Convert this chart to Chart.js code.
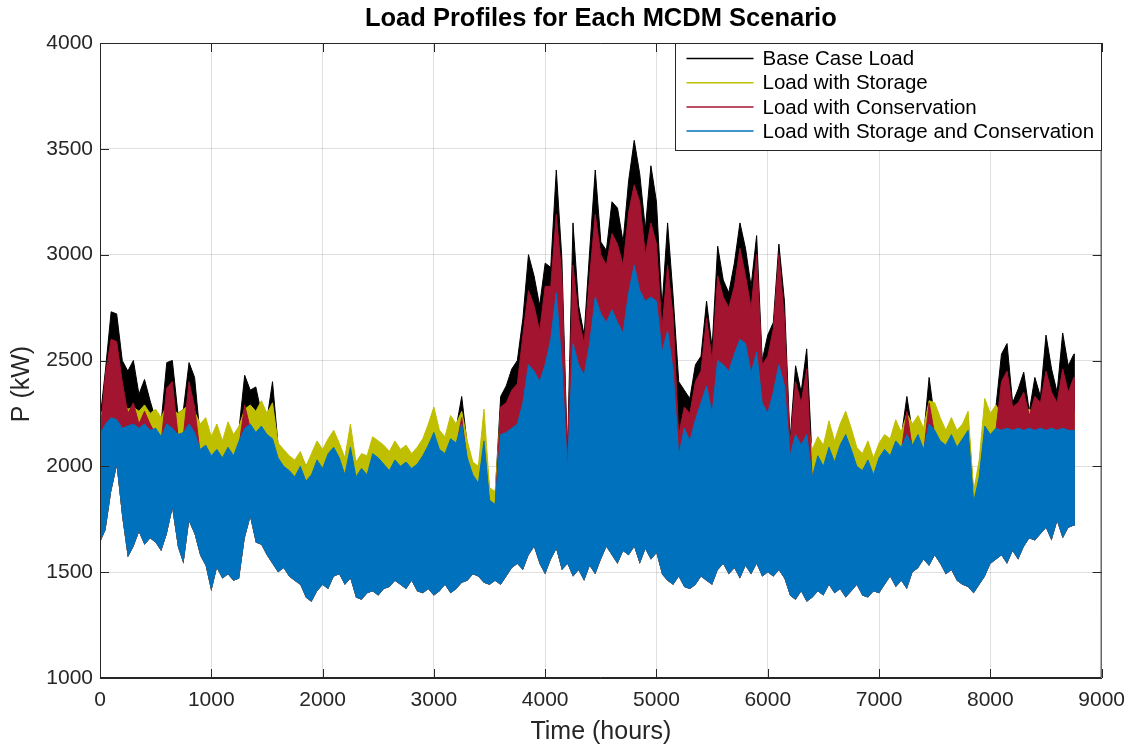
<!DOCTYPE html>
<html>
<head>
<meta charset="utf-8">
<script src="https://cdn.jsdelivr.net/npm/chart.js@4.4.1/dist/chart.umd.min.js"></script>
<style>
  html, body { margin: 0; padding: 0; background: #fff; }
  #wrap { width: 1135px; height: 747px; }
</style>
</head>
<body>
<div id="wrap"><canvas id="loadChart" width="1135" height="747"></canvas></div>
<script>
"use strict";

// Timserie: ett block per 50 timmar över året (0-8760 h).
const STEP = 50;
const END_HOUR = 8760;
const hours = Array.from({ length: 176 }, (_, i) => i * STEP);

// Lägsta last (kW) i varje block, gemensam undre kant för alla scenarier.
const dailyLow = [
  1640,1700,1880,2000,1760,1570,1620,1690,1630,1660,
  1640,1600,1680,1800,1620,1540,1740,1680,1580,1530,
  1410,1520,1470,1490,1460,1470,1660,1760,1640,1630,
  1580,1540,1500,1520,1480,1460,1440,1380,1360,1410,
  1440,1420,1480,1490,1440,1470,1380,1370,1400,1410,
  1390,1420,1430,1460,1440,1420,1460,1410,1400,1420,
  1390,1410,1440,1400,1420,1450,1460,1490,1480,1450,
  1440,1460,1440,1480,1520,1540,1510,1580,1620,1540,
  1490,1560,1610,1510,1540,1480,1510,1460,1530,1490,
  1560,1620,1580,1540,1600,1580,1620,1540,1610,1560,
  1590,1490,1460,1440,1480,1430,1420,1440,1480,1460,
  1440,1510,1540,1490,1520,1470,1530,1490,1540,1480,
  1500,1480,1510,1470,1390,1370,1410,1360,1380,1410,
  1390,1440,1400,1420,1380,1410,1440,1390,1380,1410,
  1400,1440,1480,1430,1460,1420,1500,1520,1560,1530,
  1580,1540,1490,1510,1460,1440,1430,1400,1440,1480,
  1540,1560,1580,1540,1600,1560,1620,1660,1650,1680,
  1710,1650,1740,1660,1710,1720
];

// Högsta last (kW) i varje block, per scenario.
const basePeak = [
  2220,2460,2730,2720,2500,2450,2500,2340,2410,2310,
  2220,2210,2490,2500,2250,2270,2490,2420,2140,2170,
  2120,2150,2100,2150,2120,2180,2430,2360,2375,2250,
  2220,2400,2100,2060,2040,2020,2060,2000,2020,2100,
  2060,2120,2140,2100,2020,2140,2010,2050,2020,2120,
  2100,2070,2040,2090,2060,2080,2050,2070,2110,2160,
  2220,2140,2120,2190,2180,2330,2100,2010,1980,2180,
  1880,1860,2330,2380,2460,2500,2700,3000,2900,2760,
  2960,2940,3400,2980,2050,3150,2760,2620,3020,3400,
  3060,3020,3250,3220,3060,3350,3540,3380,3120,3420,
  3250,2750,3150,2800,2400,2360,2320,2480,2520,2780,
  2560,3040,2880,2820,2960,3150,3030,2850,3090,2500,
  2620,2680,3050,2780,2120,2475,2350,2555,2020,2100,
  2070,2140,2080,2160,2210,2140,2060,2040,2090,2020,
  2090,2130,2110,2170,2140,2330,2160,2200,2140,2420,
  2220,2180,2160,2200,2140,2180,2220,1870,2010,2240,
  2220,2280,2530,2580,2300,2365,2445,2260,2420,2330,
  2620,2460,2350,2630,2475,2530
];

const storagePeak = [
  2240,2290,2300,2310,2300,2270,2280,2260,2290,2250,
  2270,2230,2290,2270,2250,2270,2290,2260,2200,2230,
  2140,2200,2120,2210,2150,2190,2270,2290,2260,2310,
  2250,2300,2110,2080,2050,2030,2070,2000,2060,2120,
  2080,2130,2170,2110,2040,2200,2020,2060,2050,2140,
  2120,2100,2070,2120,2080,2100,2060,2090,2130,2200,
  2280,2170,2140,2240,2200,2260,2120,2020,2000,2270,
  1900,1880,2260,2290,2280,2300,2330,2350,2340,2330,
  2350,2360,2380,2330,2050,2350,2340,2330,2340,2370,
  2360,2350,2360,2350,2350,2380,2400,2380,2370,2370,
  2360,2330,2350,2330,2130,2250,2230,2280,2320,2330,
  2310,2350,2350,2340,2360,2360,2360,2340,2350,2310,
  2300,2320,2340,2330,2120,2250,2200,2230,2080,2140,
  2100,2215,2120,2200,2260,2180,2090,2060,2120,2040,
  2110,2150,2130,2220,2160,2250,2200,2240,2180,2310,
  2300,2230,2170,2230,2170,2200,2260,1880,2030,2320,
  2250,2290,2240,2250,2240,2260,2250,2270,2250,2260,
  2250,2260,2250,2260,2250,2260
];

const conservationPeak = [
  2150,2440,2600,2590,2400,2250,2300,2200,2260,2200,
  2150,2120,2370,2400,2150,2150,2400,2280,2060,2080,
  2030,2060,2020,2070,2030,2100,2290,2180,2140,2170,
  2130,2110,2020,1980,1960,1930,1980,1910,1940,2010,
  1970,2040,2070,2020,1940,2070,1930,1970,1940,2040,
  2020,1990,1960,2010,1980,2000,1970,1990,2030,2080,
  2140,2060,2040,2110,2090,2230,2020,1940,1900,2100,
  1820,1800,2280,2300,2360,2390,2620,2830,2760,2640,
  2850,2850,3190,2900,2030,2950,2700,2580,2900,3190,
  3000,2950,3100,3050,2950,3200,3330,3250,3000,3150,
  3050,2650,2950,2700,2150,2280,2250,2400,2450,2700,
  2500,2900,2800,2750,2850,3030,2900,2750,3000,2480,
  2520,2650,3000,2700,2100,2400,2300,2460,1930,2030,
  1980,2070,2000,2080,2130,2060,1980,1960,2010,1940,
  2020,2060,2030,2100,2070,2260,2080,2130,2060,2300,
  2150,2100,2080,2130,2070,2110,2150,1810,1930,2170,
  2130,2170,2400,2450,2280,2300,2350,2240,2330,2300,
  2450,2350,2300,2460,2350,2420
];

const bothPeak = [
  2150,2200,2230,2220,2180,2190,2200,2180,2200,2170,
  2180,2140,2200,2180,2150,2160,2200,2160,2080,2100,
  2050,2080,2040,2090,2050,2120,2180,2200,2160,2190,
  2150,2130,2040,2000,1980,1950,2000,1930,1960,2030,
  1990,2060,2090,2040,1960,2090,1950,1990,1960,2060,
  2040,2010,1980,2030,2000,2020,1990,2010,2050,2100,
  2160,2080,2060,2130,2110,2200,2040,1960,1920,2120,
  1840,1820,2150,2160,2180,2200,2300,2480,2450,2400,
  2480,2600,2820,2480,1980,2580,2480,2430,2580,2800,
  2720,2680,2740,2680,2630,2820,2950,2830,2780,2800,
  2780,2540,2640,2450,2050,2180,2120,2220,2300,2380,
  2250,2500,2480,2450,2530,2600,2580,2440,2540,2300,
  2250,2350,2480,2380,2050,2150,2100,2150,1950,2050,
  2000,2090,2020,2100,2150,2080,2000,1980,2030,1960,
  2040,2080,2050,2120,2090,2150,2100,2150,2080,2200,
  2170,2120,2100,2150,2090,2130,2170,1830,1950,2190,
  2150,2180,2170,2180,2170,2180,2170,2180,2170,2180,
  2170,2180,2170,2180,2170,2170
];

// Axlar
const xTicks = [0, 1000, 2000, 3000, 4000, 5000, 6000, 7000, 8000, 9000];
const yTicks = [1000, 1500, 2000, 2500, 3000, 3500, 4000];

const labels = [
  "Base Case Load",
  "Load with Storage",
  "Load with Conservation",
  "Load with Storage and Conservation"
];
const colors = ["#000000", "#bfbf00", "#a2142f", "#0072bd"];
const series = [basePeak, storagePeak, conservationPeak, bothPeak];

const TITLE = "Load Profiles for Each MCDM Scenario";
const Y_TITLE = "P (kW)";
const FONT = "'Liberation Sans', Arial, Helvetica, sans-serif";
const AXIS_COLOR = "#262626";
const LOW_INDEX = series.length;

function toPoints(values) {
  const pts = hours.map((h, i) => ({ x: h, y: values[i] }));
  pts.push({ x: END_HOUR, y: values[values.length - 1] });
  return pts;
}

// Ram, inre tickmarkeringar, rubriker och legend som i MATLAB
const boxPlugin = {
  id: "boxPlugin",
  afterDraw(chart) {
    const ctx = chart.ctx;
    const a = chart.chartArea;
    const xs = chart.scales.x;
    const ys = chart.scales.y;
    const tl = 9;

    ctx.save();
    ctx.strokeStyle = AXIS_COLOR;
    ctx.lineWidth = 1;
    ctx.beginPath();
    ctx.rect(a.left + 0.5, a.top + 0.5, a.right - a.left - 1, a.bottom - a.top - 1);
    for (const v of xTicks) {
      const px = Math.round(xs.getPixelForValue(v)) + 0.5;
      ctx.moveTo(px, a.bottom); ctx.lineTo(px, a.bottom - tl);
      ctx.moveTo(px, a.top); ctx.lineTo(px, a.top + tl);
    }
    for (const v of yTicks) {
      const py = Math.round(ys.getPixelForValue(v)) + 0.5;
      ctx.moveTo(a.left, py); ctx.lineTo(a.left + tl, py);
      ctx.moveTo(a.right, py); ctx.lineTo(a.right - tl, py);
    }
    ctx.stroke();

    // Rubrik centrerad över axlarna
    ctx.fillStyle = "#000";
    ctx.textAlign = "center";
    ctx.textBaseline = "middle";
    ctx.font = "bold 25.5px " + FONT;
    ctx.fillText(TITLE, (a.left + a.right) / 2, 19);

    // Y-axelns titel
    ctx.save();
    ctx.translate(22, 384);
    ctx.rotate(-Math.PI / 2);
    ctx.fillStyle = AXIS_COLOR;
    ctx.font = "25px " + FONT;
    ctx.fillText(Y_TITLE, 0, 0);
    ctx.restore();

    // Legend uppe till höger
    ctx.font = "20.5px " + FONT;
    let maxW = 0;
    for (const l of labels) maxW = Math.max(maxW, ctx.measureText(l).width);
    const lineLen = 67, padL = 11, gap = 9, padR = 7, rowH = 24.2;
    const w = Math.round(padL + lineLen + gap + maxW + padR);
    const h = 107;
    const bx = Math.round(a.right - w) - 0.5;
    const by = a.top + 0.5;
    ctx.fillStyle = "#fff";
    ctx.fillRect(bx, by, w, h);
    ctx.strokeStyle = AXIS_COLOR;
    ctx.lineWidth = 1;
    ctx.strokeRect(bx, by, w, h);
    ctx.textAlign = "left";
    labels.forEach((label, i) => {
      const cy = by + 15 + i * rowH;
      ctx.strokeStyle = colors[i];
      ctx.lineWidth = 1.5;
      ctx.beginPath();
      ctx.moveTo(bx + padL, cy);
      ctx.lineTo(bx + padL + lineLen, cy);
      ctx.stroke();
      ctx.fillStyle = "#000";
      ctx.fillText(label, bx + padL + lineLen + gap, cy + 1);
    });
    ctx.restore();
  }
};

const datasets = series.map((peaks, i) => ({
  label: labels[i],
  data: toPoints(peaks),
  borderColor: colors[i],
  backgroundColor: colors[i],
  borderWidth: 1,
  pointRadius: 0,
  tension: 0,
  fill: LOW_INDEX,
  // Basfallet ritas först, kombinationen sist (överst)
  order: labels.length - i + 1
}));

// Undre kant för fyllningen, ritas inte själv
datasets.push({
  label: "",
  data: toPoints(dailyLow),
  borderWidth: 0,
  borderColor: "rgba(0,0,0,0)",
  pointRadius: 0,
  fill: false,
  order: 10
});

const ctx = document.getElementById("loadChart");

new Chart(ctx, {
  type: "line",
  data: { datasets },
  options: {
    responsive: false,
    animation: false,
    events: [],
    layout: { padding: { top: 43, right: 32, left: 0, bottom: 0 } },
    plugins: {
      legend: { display: false },
      tooltip: { enabled: false },
      title: { display: false }
    },
    scales: {
      x: {
        type: "linear",
        min: 0,
        max: 9000,
        afterBuildTicks(scale) { scale.ticks = xTicks.map(v => ({ value: v })); },
        afterFit(scale) { scale.height = 69; },
        grid: { color: "rgba(38,38,38,0.15)", drawTicks: false },
        border: { color: AXIS_COLOR },
        ticks: {
          color: AXIS_COLOR,
          padding: 10,
          maxRotation: 0,
          font: { family: FONT, size: 21 },
          callback: v => String(v)
        },
        title: {
          display: true,
          text: "Time (hours)",
          color: AXIS_COLOR,
          font: { family: FONT, size: 25 },
          padding: { top: 16, bottom: 0 }
        }
      },
      y: {
        type: "linear",
        min: 1000,
        max: 4000,
        afterBuildTicks(scale) { scale.ticks = yTicks.map(v => ({ value: v })); },
        afterFit(scale) { scale.width = 100; },
        grid: { color: "rgba(38,38,38,0.15)", drawTicks: false },
        border: { color: AXIS_COLOR },
        ticks: {
          color: AXIS_COLOR,
          padding: 7,
          font: { family: FONT, size: 21 },
          callback: v => String(v)
        }
      }
    }
  },
  plugins: [boxPlugin]
});
</script>
</body>
</html>
